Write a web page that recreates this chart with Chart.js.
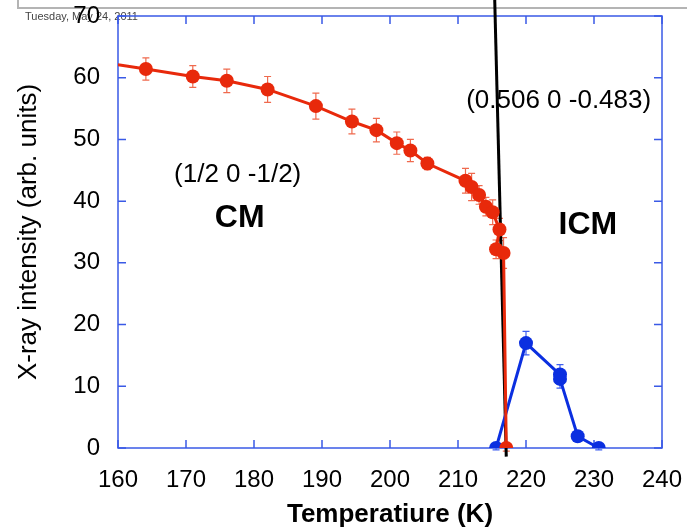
<!DOCTYPE html>
<html>
<head>
<meta charset="utf-8">
<script src="https://cdn.jsdelivr.net/npm/chart.js@4.4.1/dist/chart.umd.min.js"></script>
<style>
  html, body { margin: 0; padding: 0; background: #fff; }
  #wrap { width: 687px; height: 530px; }
</style>
</head>
<body>
<div id="wrap"><canvas id="myChart"></canvas></div>
<script>
// commensurate phase (1/2 0 -1/2)
const cmTemp = [160, 164.1, 171.0, 176.0, 182.0, 189.1, 194.4, 198.0, 201.0, 203.0, 205.5, 211.1, 212.0, 213.1, 214.1, 215.1, 216.1, 215.6, 216.7, 217.1];
const cmInt  = [62.1, 61.4, 60.2, 59.5, 58.1, 55.4, 52.9, 51.5, 49.4, 48.2, 46.1, 43.3, 42.3, 41.0, 39.1, 38.2, 35.4, 32.2, 31.6, 0];
const cmErr  = [0, 1.8, 1.75, 1.9, 2.1, 2.1, 2.0, 1.9, 1.8, 1.8, 1.0, 2.0, 2.2, 1.5, 1.5, 2.0, 1.8, 1.5, 2.5, 0.5];

// incommensurate phase (0.506 0 -0.483)
const icmTemp = [215.6, 220.0, 225.0, 225.0, 227.6, 230.7];
const icmInt  = [0, 17.0, 11.9, 11.2, 1.9, 0];
const icmErr  = [0.3, 1.9, 1.6, 1.5, 0.8, 0.3];

// transition line
const transTemp = [215.4, 217.1];
const transInt  = [72.6, -1.4];

const xTicks = [160, 170, 180, 190, 200, 210, 220, 230, 240];
const yTicks = [0, 10, 20, 30, 40, 50, 60, 70];

const labels = [
  { text: '(1/2 0 -1/2)', x: 177.6, y: 44.2, font: '26px "Liberation Sans", Arial, sans-serif' },
  { text: 'CM', x: 177.9, y: 37.2, font: 'bold 32px "Liberation Sans", Arial, sans-serif' },
  { text: '(0.506 0 -0.483)', x: 224.8, y: 56.2, font: '26px "Liberation Sans", Arial, sans-serif' },
  { text: 'ICM', x: 229.1, y: 36.1, font: 'bold 32px "Liberation Sans", Arial, sans-serif' },
];

const toPts = (xs, ys) => xs.map((x, i) => ({ x: x, y: ys[i] }));

const axisBlue = '#3a5ae6';

const framePlugin = {
  id: 'frame',
  beforeDraw(chart) {
    const c = chart.ctx;
    c.save();
    // page header remnants
    c.strokeStyle = '#b4b4b4';
    c.lineWidth = 2;
    c.beginPath();
    c.moveTo(18, 0);
    c.lineTo(18, 8);
    c.lineTo(687, 8);
    c.stroke();
    c.fillStyle = '#444';
    c.font = '11px "Liberation Sans", Arial, sans-serif';
    c.textBaseline = 'middle';
    c.fillText('Tuesday, May 24, 2011', 25, 16.5);
    c.restore();
  },
  beforeDatasetsDraw(chart) {
    const c = chart.ctx;
    const a = chart.chartArea;
    const xs = chart.scales.x, ys = chart.scales.y;
    c.save();
    c.strokeStyle = axisBlue;
    c.lineWidth = 1.5;
    c.strokeRect(a.left, a.top, a.right - a.left, a.bottom - a.top);
    c.beginPath();
    xTicks.forEach(v => {
      const px = xs.getPixelForValue(v);
      c.moveTo(px, a.bottom); c.lineTo(px, a.bottom - 8);
      c.moveTo(px, a.top); c.lineTo(px, a.top + 8);
    });
    yTicks.forEach(v => {
      const py = ys.getPixelForValue(v);
      c.moveTo(a.left, py); c.lineTo(a.left + 8, py);
      c.moveTo(a.right, py); c.lineTo(a.right - 8, py);
    });
    c.stroke();

    // error bars
    const drawErr = (idx, errs, color) => {
      const data = chart.data.datasets[idx].data;
      c.strokeStyle = color;
      c.lineWidth = 1.2;
      c.beginPath();
      data.forEach((p, i) => {
        if (!errs[i]) return;
        const px = xs.getPixelForValue(p.x);
        const y1 = ys.getPixelForValue(p.y + errs[i]);
        const y2 = ys.getPixelForValue(p.y - errs[i]);
        c.moveTo(px, y1); c.lineTo(px, y2);
        c.moveTo(px - 3.5, y1); c.lineTo(px + 3.5, y1);
        c.moveTo(px - 3.5, y2); c.lineTo(px + 3.5, y2);
      });
      c.stroke();
    };
    drawErr(0, cmErr, '#ef6a4e');
    drawErr(1, icmErr, '#3f5ff0');
    c.restore();
  },
  afterDraw(chart) {
    const c = chart.ctx;
    const xs = chart.scales.x, ys = chart.scales.y;
    c.save();
    c.fillStyle = '#000';
    c.textAlign = 'center';
    c.textBaseline = 'middle';
    labels.forEach(l => {
      c.font = l.font;
      c.fillText(l.text, xs.getPixelForValue(l.x), ys.getPixelForValue(l.y));
    });
    c.restore();
  }
};

// invisible tick marks just to push labels away from the axis
const hiddenGrid = {
  display: true,
  drawOnChartArea: false,
  drawTicks: true,
  tickLength: 18,
  color: 'rgba(0,0,0,0)',
};

const ctx = document.getElementById('myChart');
new Chart(ctx, {
  type: 'scatter',
  data: {
    datasets: [{
      label: 'CM',
      data: toPts(cmTemp, cmInt),
      showLine: true,
      borderColor: '#e8290b',
      backgroundColor: '#e8290b',
      borderWidth: 3,
      pointRadius: cmTemp.map((t, i) => i === 0 ? 0 : 7),
      pointBorderWidth: 0,
    },
    {
      label: 'ICM',
      data: toPts(icmTemp, icmInt),
      showLine: true,
      borderColor: '#0b2fe0',
      backgroundColor: '#0b2fe0',
      borderWidth: 3,
      pointRadius: 7,
      pointBorderWidth: 0,
    },
    {
      label: 'transition',
      data: toPts(transTemp, transInt),
      showLine: true,
      borderColor: '#000000',
      borderWidth: 3,
      pointRadius: 0,
      clip: false,
    }]
  },
  options: {
    responsive: true,
    maintainAspectRatio: false,
    animation: false,
    events: [],
    layout: {
      padding: { left: 0, right: 25, top: 16, bottom: 0 }
    },
    plugins: {
      legend: { display: false },
      tooltip: { enabled: false },
    },
    scales: {
      x: {
        type: 'linear',
        min: 160,
        max: 240,
        afterFit: s => { s.height = 82; },
        afterBuildTicks: s => { s.ticks = xTicks.map(v => ({ value: v })); },
        grid: hiddenGrid,
        border: { display: false },
        ticks: {
          color: '#000000',
          padding: 0,
          maxRotation: 0,
          font: { family: "'Liberation Sans', Arial, sans-serif", size: 24 },
        },
        title: {
          display: true,
          text: 'Temperatiure (K)',
          color: '#000000',
          padding: { top: 0, bottom: 0 },
          font: { family: "'Liberation Sans', Arial, sans-serif", size: 26, weight: 'bold' },
        },
      },
      y: {
        type: 'linear',
        min: 0,
        max: 70,
        afterFit: s => { s.width = 118; },
        afterBuildTicks: s => { s.ticks = yTicks.map(v => ({ value: v })); },
        grid: hiddenGrid,
        border: { display: false },
        ticks: {
          color: '#000000',
          padding: 0,
          font: { family: "'Liberation Sans', Arial, sans-serif", size: 24 },
        },
        title: {
          display: true,
          text: 'X-ray intensity (arb. units)',
          color: '#000000',
          padding: { top: 13, bottom: 0 },
          font: { family: "'Liberation Sans', Arial, sans-serif", size: 26 },
        },
      }
    }
  },
  plugins: [framePlugin]
});
</script>
</body>
</html>
